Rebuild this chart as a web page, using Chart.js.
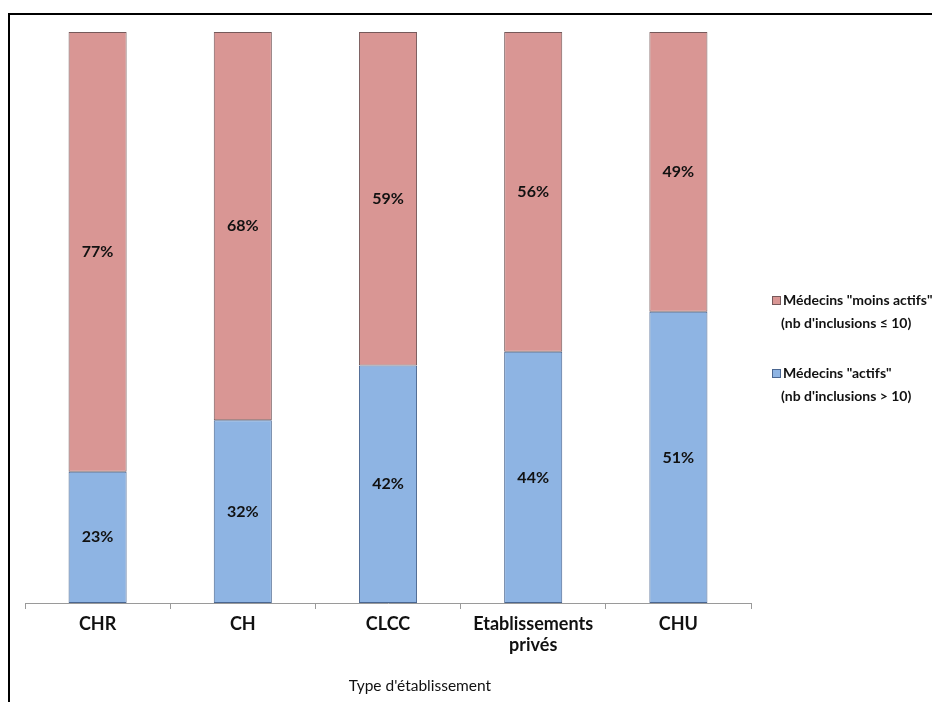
<!DOCTYPE html>
<html lang="fr">
  <head>
    <meta charset="utf-8" />
    <title>Type d'établissement</title>
    <style>
      * { margin: 0; padding: 0; }
      body { background: #fff; }
    </style>
  </head>
  <body>
    <canvas id="myChart" width="932" height="702"></canvas>
    <script src="https://cdn.jsdelivr.net/npm/chart.js"></script>
    <script>
      // data
      const categories = ['CHR', 'CH', 'CLCC', ['Etablissements', 'privés'], 'CHU'];
      const actifs = [23, 32, 42, 44, 51];
      const moinsActifs = [77, 68, 59, 56, 49];
      const legendActifs = ['Médecins "actifs"', '(nb d\'inclusions > 10)'];
      const legendMoins = ['Médecins "moins actifs"', '(nb d\'inclusions ≤ 10)'];
      const axisTitle = "Type d'établissement";

      const FONT = 'Lato, "Open Sans", sans-serif';
      const BLUE = '#8eb4e3';
      const RED = '#d99694';

      // stacked to 100% (CLCC sums to 101)
      const totals = actifs.map((v, i) => v + moinsActifs[i]);
      const pct = (arr) => arr.map((v, i) => (v / totals[i]) * 100);

      const data = {
        labels: categories,
        datasets: [
          {
            label: legendActifs.join(' '),
            data: pct(actifs),
            raw: actifs,
            backgroundColor: BLUE,
            borderColor: '#4a6690',
            borderWidth: 1,
            borderSkipped: false,
          },
          {
            label: legendMoins.join(' '),
            data: pct(moinsActifs),
            raw: moinsActifs,
            backgroundColor: RED,
            borderColor: '#76595a',
            borderWidth: 1,
            borderSkipped: false,
          },
        ],
      };

      // frame + labels + legend
      const decor = {
        id: 'decor',
        beforeDraw(chart) {
          const ctx = chart.ctx;
          ctx.save();
          ctx.strokeStyle = '#000';
          ctx.lineWidth = 2;
          ctx.beginPath();
          ctx.moveTo(9, 702);
          ctx.lineTo(9, 14);
          ctx.lineTo(932, 14);
          ctx.stroke();
          ctx.restore();
        },
        afterDatasetsDraw(chart) {
          const ctx = chart.ctx;
          ctx.save();
          ctx.font = 'bold 16px ' + FONT;
          ctx.fillStyle = '#111';
          ctx.textAlign = 'center';
          ctx.textBaseline = 'middle';
          chart.data.datasets.forEach((ds, di) => {
            chart.getDatasetMeta(di).data.forEach((bar, i) => {
              const { x, y, base } = bar.getProps(['x', 'y', 'base'], true);
              ctx.fillText(ds.raw[i] + '%', x, (y + base) / 2);
            });
          });

          // axis title
          ctx.font = '15.5px ' + FONT;
          ctx.fillText(axisTitle, 420, 686);

          // legend
          const items = [
            { text: legendMoins, color: RED, border: '#76595a', y: 300 },
            { text: legendActifs, color: BLUE, border: '#4a6690', y: 373 },
          ];
          ctx.font = 'bold 14px ' + FONT;
          ctx.textAlign = 'left';
          items.forEach((it) => {
            ctx.fillStyle = it.color;
            ctx.fillRect(772, it.y - 4, 8, 8);
            ctx.strokeStyle = it.border;
            ctx.lineWidth = 1;
            ctx.strokeRect(772.5, it.y - 3.5, 8, 8);
            ctx.fillStyle = '#111';
            ctx.fillText(it.text[0], 783, it.y);
            ctx.fillText(it.text[1], 781, it.y + 23);
          });
          ctx.restore();
        },
      };

      const config = {
        type: 'bar',
        data,
        options: {
          responsive: false,
          animation: false,
          layout: { padding: { left: 25, right: 181, top: 32, bottom: 0 } },
          datasets: {
            bar: { barPercentage: 0.4, categoryPercentage: 1 },
          },
          scales: {
            x: {
              stacked: true,
              grid: {
                offset: true,
                drawOnChartArea: false,
                drawTicks: true,
                tickLength: 6,
                color: '#9a9a9a',
              },
              border: { color: '#9a9a9a', width: 1 },
              ticks: {
                color: '#111',
                padding: 4,
                font: { family: FONT, size: 18, weight: 'bold' },
                maxRotation: 0,
                autoSkip: false,
              },
              afterFit(scale) {
                scale.height = 99;
              },
            },
            y: {
              stacked: true,
              display: false,
              min: 0,
              max: 100,
            },
          },
          plugins: {
            legend: { display: false },
            tooltip: { enabled: false },
          },
        },
        plugins: [decor],
      };

      const myChart = new Chart(document.getElementById('myChart'), config);
    </script>
  </body>
</html>
